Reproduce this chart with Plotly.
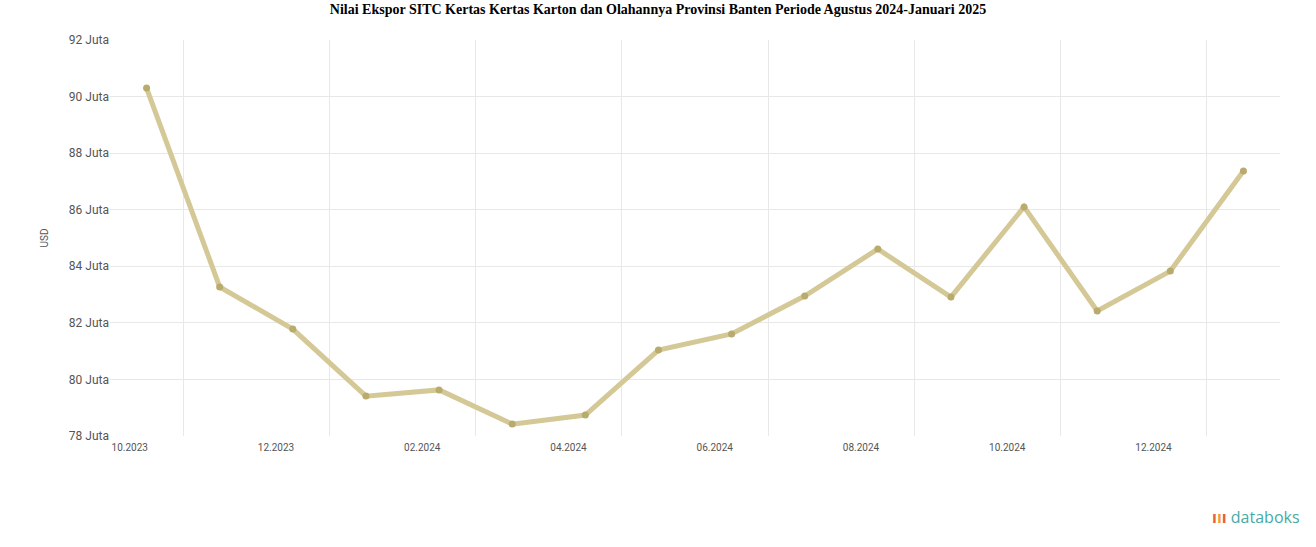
import plotly.graph_objects as go

months = ["10.2023", "11.2023", "12.2023", "01.2024", "02.2024", "03.2024", "04.2024", "05.2024",
          "06.2024", "07.2024", "08.2024", "09.2024", "10.2024", "11.2024", "12.2024", "01.2025"]
values = [90.30, 83.27, 81.78, 79.41, 79.63, 78.42, 78.74, 81.04,
          81.61, 82.95, 84.61, 82.91, 86.10, 82.42, 83.83, 87.37]
y_ticks = [78, 80, 82, 84, 86, 88, 90, 92]
y_tick_labels = [f"{v} Juta" for v in y_ticks]
x_tick_labels = months[0::2]

idx = list(range(len(months)))

fig = go.Figure()
fig.add_trace(go.Scatter(
    x=idx, y=values, mode="lines+markers",
    line=dict(color="#d4c996", width=5),
    marker=dict(color="#b9aa6e", size=7),
    hovertext=months, hoverinfo="text+y",
))

fig.update_layout(
    width=1316, height=547,
    paper_bgcolor="white", plot_bgcolor="white",
    margin=dict(l=110, r=36, t=40, b=111),
    showlegend=False,
    title=dict(
        text="<b>Nilai Ekspor SITC Kertas Kertas Karton dan Olahannya Provinsi Banten Periode Agustus 2024-Januari 2025</b>",
        x=0.5, xanchor="center", y=0.993, yanchor="top",
        font=dict(family="Liberation Serif, Times New Roman, serif", size=14, color="black"),
    ),
    xaxis=dict(
        range=[-0.5, 15.5],
        automargin=False,
        tickmode="array",
        tickvals=[i - 0.23 for i in idx[0::2]],
        ticktext=x_tick_labels,
        showgrid=False, zeroline=False, showline=False,
        ticks="", ticklabelstandoff=4,
        tickfont=dict(family="Roboto, Arial, sans-serif", size=10, color="#555"),
        minor=dict(tickmode="array", tickvals=[i + 0.5 for i in idx[0::2]],
                   showgrid=True, gridcolor="#e8e8e8", gridwidth=1, ticks=""),
    ),
    yaxis=dict(
        range=[78, 92],
        automargin=False,
        tickmode="array", tickvals=y_ticks, ticktext=y_tick_labels,
        showgrid=True, gridcolor="#e8e8e8", gridwidth=1,
        zeroline=False, showline=False, ticks="",
        tickfont=dict(family="Roboto, Arial, sans-serif", size=12, color="#555"),
        title=dict(text="USD", font=dict(family="Roboto, Arial, sans-serif", size=10, color="#555"), standoff=18),
    ),
)

fig.add_annotation(
    xref="paper", yref="paper", x=1.0, y=-0.195, xanchor="right", yanchor="middle",
    text="<span style='color:#e8603c'><b>ı</b></span><span style='color:#f2a03a'><b>ı</b></span><span style='color:#e8603c'><b>ı</b></span> <span style='color:#4aa9a6'>databoks</span>",
    showarrow=False,
    font=dict(family="Open Sans, Arial, sans-serif", size=16, color="#4aa9a6"),
    xshift=22, yshift=-4,
)

fig.write_html("out.html", config={"displayModeBar": False},
               post_script="document.body.style.margin='0';")
